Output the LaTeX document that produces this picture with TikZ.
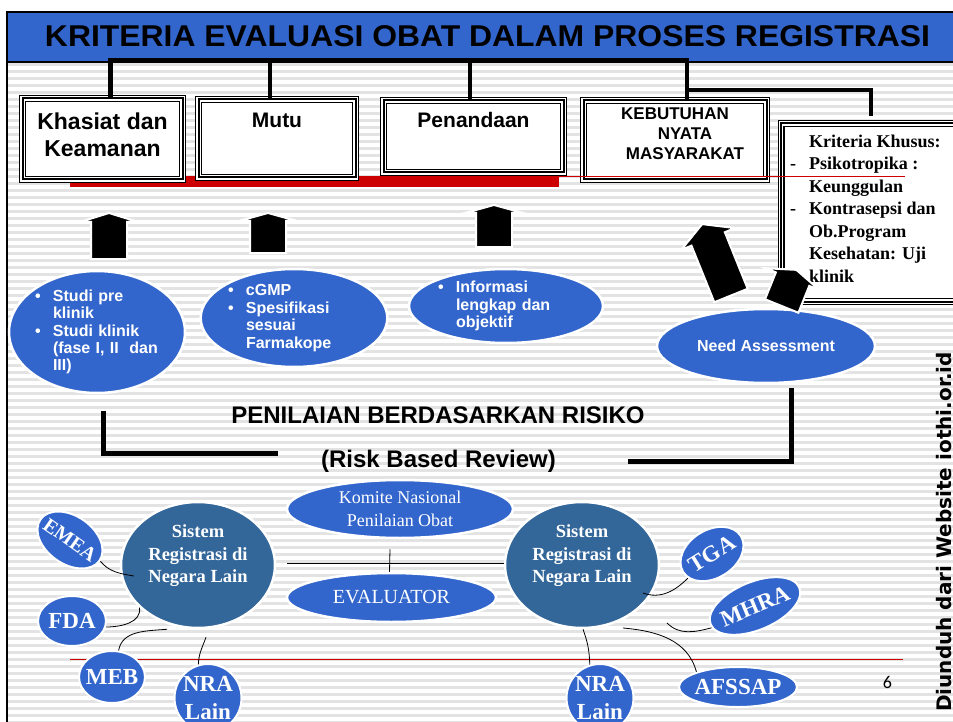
\documentclass[tikz,border=0pt]{standalone}
\usepackage{graphicx}
\usepackage{fontspec}
\setmainfont{Liberation Serif}
\newfontfamily\arialfont{Liberation Sans}
\newfontfamily\markfont{DejaVu Sans}
\newfontfamily\calibrifont{Carlito}
\usetikzlibrary{shapes.geometric, positioning}

\definecolor{bandblue}{HTML}{3366CC}
\definecolor{sysblue}{HTML}{336699}
\definecolor{barred}{HTML}{CC0000}
\definecolor{stripegray}{HTML}{E3E3E3}

\newcommand{\bul}{\makebox[18pt][l]{\textbullet}}
\newcommand{\ind}{\hspace*{18pt}}

\tikzset{
  x=1pt, y=1pt, % one unit is one pixel of the slide
  kbox/.style={rectangle, inner sep=0pt, preaction={fill=white},
    preaction={draw, line width=7pt}, preaction={draw=white, line width=4.6pt},
    draw, line width=2pt}, % thin-thick-thin frame
  boxlbl/.style={font=\arialfont\bfseries\fontsize{21}{27}\selectfont, align=center, inner sep=0pt},
  tree/.style={line width=4.5pt},
  blockarrow/.style={fill=black, draw=white, line width=2pt, line join=miter},
  bubble/.style={ellipse, fill=bandblue, draw=white, line width=2.5pt, text=white, inner sep=0pt,
    font=\arialfont\bfseries\fontsize{16}{17.4}\selectfont},
  panel/.style={ellipse, fill=bandblue, draw=white, line width=2.5pt, text=white, inner sep=0pt, align=center},
  sysbubble/.style={ellipse, fill=sysblue, draw=white, line width=2.5pt, text=white, inner sep=0pt,
    align=center, font=\bfseries\fontsize{18.5}{22.5}\selectfont, minimum width=154pt, minimum height=126pt},
  tag/.style={ellipse, fill=bandblue, draw=white, line width=2pt, text=white, inner sep=0pt,
    align=center, font=\bfseries\fontsize{23}{28}\selectfont},
  heading/.style={font=\arialfont\bfseries\fontsize{24}{28}\selectfont, inner sep=0pt},
  bracket/.style={line width=5pt},
  link/.style={line width=0.8pt},
  pics/uparrow/.style 2 args={code={
    \draw[blockarrow] (-18,0) -- (-18,#1-#2) -- (-29,#1-#2) -- (0,#1) -- (29,#1-#2) -- (18,#1-#2) -- (18,0) -- cycle;
  }},
}

\begin{document}
\begin{tikzpicture}
    \useasboundingbox (0,0) rectangle (953,-722);
    \clip (0,0) rectangle (953,-722);

    % striped slide background
    \foreach \s in {0,...,94}
      \fill[stripegray] (8,-63-7*\s) rectangle (953,-66-7*\s);

    % title band
    \fill[bandblue] (7,-12) rectangle (953,-62);
    \draw[line width=2.5pt] (7,-722) -- (7,-12) -- (953,-12);
    \draw[line width=1.5pt] (7,-62) -- (953,-62);
    \node[font=\arialfont\bfseries\fontsize{29}{30}\selectfont] (title) at (487.5,-36.5)
      {\resizebox{885pt}{21pt}{KRITERIA EVALUASI OBAT DALAM PROSES REGISTRASI}};

    \fill[barred] (70,-176) rectangle (559,-187);

    % criteria boxes
    \node[kbox, minimum width=160pt, minimum height=81pt] (khasiat) at (102.5,-139) {};
    \node[kbox, minimum width=157pt, minimum height=78pt] (mutu) at (277,-138.5) {};
    \node[kbox, minimum width=180pt, minimum height=72pt] (penandaan) at (473.5,-136.5) {};
    \node[kbox, minimum width=183pt, minimum height=79pt] (kebutuhan) at (675,-140) {};
    \node[kbox, minimum width=180pt, minimum height=178pt] (khusus) at (871,-212.5) {};

    \node[boxlbl, font=\arialfont\bfseries\fontsize{23}{27}\selectfont, anchor=base] (khasiatlbl)
      at ([yshift=-59pt]khasiat.north) {Khasiat dan\\Keamanan};
    \node[boxlbl, anchor=base] (mutulbl) at ([yshift=-29.5pt]mutu.north) {Mutu};
    \node[boxlbl, anchor=base] (penandaanlbl) at ([yshift=-28.5pt]penandaan.north) {Penandaan};
    \node[boxlbl, font=\arialfont\bfseries\fontsize{17}{20}\selectfont, anchor=base] (kebutuhanlbl)
      at ([shift={(10pt,-60.5pt)}]kebutuhan.north) {KEBUTUHAN\hspace*{20pt}\\NYATA\\MASYARAKAT};
    \node[font=\bfseries\fontsize{18}{22.5}\selectfont, align=left, anchor=base west, inner sep=0pt] (khususlbl)
      at ([shift={(10pt,-159.5pt)}]khusus.north west)
      {\hspace*{19pt}Kriteria Khusus:\\
       \makebox[19pt][l]{-}Psikotropika :\\
       \hspace*{19pt}Keunggulan\\
       \makebox[19pt][l]{-}Kontrasepsi dan\\
       \hspace*{19pt}Ob.Program\\
       \hspace*{19pt}Kesehatan: Uji\\
       \hspace*{19pt}klinik};

    % tree from the title
    \draw[tree] ([xshift=8pt]khasiat.north) -- ++(0,37) -| ([xshift=12pt]kebutuhan.north);
    \draw[tree] ([xshift=-7pt]mutu.north) -- ++(0,37);
    \draw[tree] ([xshift=-3.5pt]penandaan.north) -- ++(0,37);
    \draw[tree] ([shift={(12pt,9.5pt)}]kebutuhan.north) -| ([yshift=6pt]khusus.north);

    \draw[barred, line width=1pt] (559,-177) -- (905,-177);

    % bubbles
    \node[bubble, minimum width=176pt, minimum height=122pt, text width=124pt, align=left] (studi) at (97,-332)
      {\bul Studi pre\\ \ind klinik\\ \bul Studi klinik\\ \ind (fase I, II~ dan\\ \ind III)};
    \node[bubble, minimum width=186pt, minimum height=98pt, text width=132pt, align=left] (cgmp) at (294,-318)
      {\bul cGMP\\ \bul Spesifikasi\\ \ind sesuai\\ \ind Farmakope};
    \node[bubble, minimum width=194pt, minimum height=74pt, text width=136pt, align=left] (info) at (506,-306)
      {\bul Informasi\\ \ind lengkap dan\\ \ind objektif};
    \node[bubble, minimum width=218pt, minimum height=74pt] (need) at (766,-346) {Need Assessment};

    % up arrows
    \pic at (109,-259) {uparrow={46}{9}};
    \pic at (268,-253) {uparrow={40}{8}};
    \pic at (494,-247) {uparrow={42}{8}};
    \pic[rotate=22] at (731,-295.5) {uparrow={77}{16}};
    \pic[rotate=-22] at (781.7,-306) {uparrow={39}{10}};

    % risk based review
    \node[heading] (risiko) at (438,-415.5) {PENILAIAN BERDASARKAN RISIKO};
    \node[heading] (review) at (438.5,-460.8) {(Risk Based Review)};
    \draw[bracket] ([shift={(6pt,-17pt)}]studi.south) -- ++(0,-42) -- ++(175,0);
    \draw[bracket] ([shift={(25pt,-4pt)}]need.south) -- ++(0,-73) -- ++(-163,0);

    \draw[barred, line width=1pt] (70,-659) -- (903,-659);

    % national committee
    \node[panel, minimum width=226pt, minimum height=58pt, font=\fontsize{18}{23}\selectfont] (komite)
      at (400,-509) {Komite Nasional\\Penilaian Obat};
    \node[panel, minimum width=209pt, minimum height=49pt, font=\fontsize{20}{24}\selectfont] (evaluator)
      at (391.5,-597.5) {EVALUATOR};

    \node[sysbubble] (sysleft) at (198,-565) {Sistem\\Registrasi di\\Negara Lain\\ \mbox{}};
    \node[sysbubble] (sysright) at (582,-565) {Sistem\\Registrasi di\\Negara Lain\\ \mbox{}};

    \node[tag, rotate=-35, minimum width=72pt, minimum height=48pt, font=\bfseries\fontsize{20}{24}\selectfont] (emea)
      at (70,-540) {\makebox[0pt]{EMEA}};
    \node[tag, minimum width=68pt, minimum height=50pt] (fda) at (72,-621) {\makebox[0pt]{FDA}};
    \node[tag, minimum width=66pt, minimum height=52pt] (meb) at (112,-677) {\makebox[0pt]{MEB}};
    \node[tag, minimum width=67pt, minimum height=68pt] (nraleft) at (208,-698) {\makebox[0pt]{NRA}\\\makebox[0pt]{Lain}};
    \node[tag, minimum width=67pt, minimum height=68pt] (nraright) at (600,-698) {\makebox[0pt]{NRA}\\\makebox[0pt]{Lain}};
    \node[tag, minimum width=118pt, minimum height=40pt] (afssap) at (738,-687) {\makebox[0pt]{AFSSAP}};
    \node[tag, rotate=32, minimum width=68pt, minimum height=48pt] (tga) at (712,-554) {\makebox[0pt]{TGA}};
    \node[tag, rotate=22.6, minimum width=96pt, minimum height=48pt] (mhra) at (755,-606) {\makebox[0pt]{MHRA}};

    \draw[link] ([shift={(11pt,2pt)}]sysleft.east) -- ([yshift=2pt]sysright.west);
    \draw[link] ([shift={(-10pt,-10pt)}]komite.south) -- ([xshift=-2pt]evaluator.north);

    \draw[link] (emea.east) to[out=-50, in=170] ([shift={(14pt,-11pt)}]sysleft.west);
    \draw[link] (fda.-10) to[out=0, in=-80] (sysleft.216);
    \draw[link] (meb.76) to[out=80, in=185] ([xshift=-31pt]sysleft.south);
    \draw[link] (nraleft.106) to[out=88, in=-110] ([shift={(8pt,-8pt)}]sysleft.south);
    \draw[link] (tga.193) to[out=-135, in=-20] ([shift={(61pt,-28pt)}]sysright.center);
    \draw[link] (mhra.184) to[out=-165, in=-45] ([shift={(85pt,-58pt)}]sysright.center);
    \draw[link] (nraright.107) to[out=92, in=-70] ([xshift=1pt]sysright.south);
    \draw[link] (afssap.160) to[out=105, in=-5] ([shift={(41pt,-63pt)}]sysright.center);

    % footer
    \node[font=\calibrifont\fontsize{18}{20}\selectfont, anchor=base] (pagenum) at (887.5,-688) {6};
    \node[rotate=90, anchor=base west, inner sep=0pt, font=\markfont\bfseries\fontsize{20}{24}\selectfont] (mark)
      at (951,-712) {Diunduh dari Website iothi.or.id};
\end{tikzpicture}
\end{document}
